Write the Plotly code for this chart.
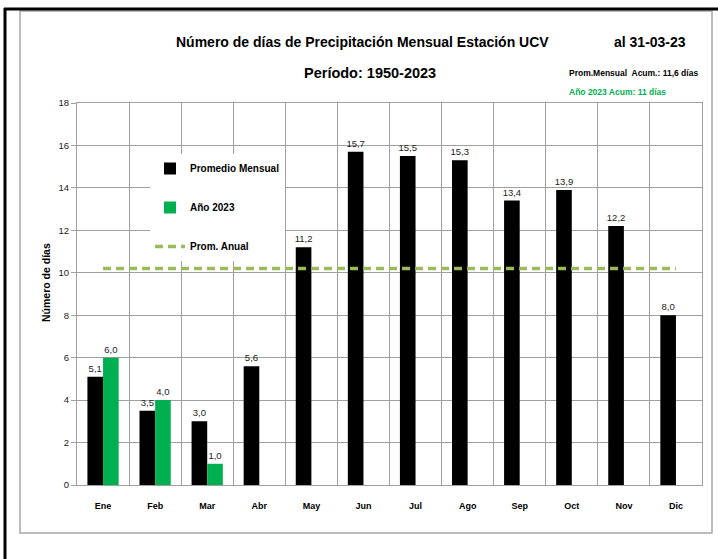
import plotly.graph_objects as go

months = ["Ene", "Feb", "Mar", "Abr", "May", "Jun", "Jul", "Ago", "Sep", "Oct", "Nov", "Dic"]
prom_mensual = [5.1, 3.5, 3.0, 5.6, 11.2, 15.7, 15.5, 15.3, 13.4, 13.9, 12.2, 8.0]
anio_2023_months = ["Ene", "Feb", "Mar"]
anio_2023 = [6.0, 4.0, 1.0]
prom_anual = [10.2, 10.2, 10.2, 10.2, 10.2, 10.2, 10.2, 10.2, 10.2, 10.2, 10.2, 10.2]
y_ticks = [0, 2, 4, 6, 8, 10, 12, 14, 16, 18]

FONT = "Liberation Sans, Arial, sans-serif"

def fmt(v):
    return f"{v:.1f}".replace(".", ",")

fig = go.Figure()
fig.add_trace(go.Bar(
    x=months, y=prom_mensual, name="<b>Promedio Mensual</b>",
    marker=dict(color="#000000", line=dict(width=0)),
    text=[fmt(v) for v in prom_mensual], textposition="outside",
    textfont=dict(family=FONT, size=9.5, color="#222222"),
    constraintext="none", cliponaxis=False, legendgroup="a",
))
fig.add_trace(go.Bar(
    x=anio_2023_months, y=anio_2023, name="<b>Año 2023</b>",
    marker=dict(color="#00B050", line=dict(width=0)),
    text=[fmt(v) for v in anio_2023], textposition="outside",
    textfont=dict(family=FONT, size=9.5, color="#222222"),
    constraintext="none", cliponaxis=False, legendgroup="b",
))
fig.add_trace(go.Scatter(
    x=months, y=prom_anual, name="<b>Prom. Anual</b>", mode="lines",
    line=dict(color="#9BBB59", width=3.5, dash="8px,5px"), legendgroup="c",
))

# plot area in pixels: x 77..702, y 103..485
L, R, T, B = 77, 702, 103, 485
W, H = R - L, B - T
def px(x):
    return (x - L) / W
def py(y):
    return (B - y) / H

shapes = [
    dict(type="rect", xref="paper", yref="paper", x0=px(20), x1=px(712), y0=py(533), y1=py(11),
         line=dict(color="#A6A6A6", width=1.5), fillcolor="rgba(0,0,0,0)", layer="below"),
    dict(type="line", xref="paper", yref="paper", x0=px(5), x1=px(5), y0=py(559), y1=py(8),
         line=dict(color="#000000", width=3)),
    dict(type="line", xref="paper", yref="paper", x0=px(4), x1=px(718), y0=py(9), y1=py(9),
         line=dict(color="#000000", width=3)),
]

def ann(text, x, y, size, color="#000000", xanchor="center", angle=0):
    return dict(text=text, x=px(x), y=py(y), xref="paper", yref="paper", showarrow=False,
                xanchor=xanchor, yanchor="middle", textangle=angle,
                font=dict(family=FONT, size=size, color=color))

annotations = [
    ann("<b>Número de días de Precipitación Mensual Estación UCV</b>", 362, 42, 14),
    ann("<b>Período: 1950-2023</b>", 370, 73, 14.5),
    ann("<b>al 31-03-23</b>", 650, 42, 14),
    ann("<b>Prom.Mensual  Acum.: 11,6 días</b>", 567, 73, 8.5, xanchor="left"),
    ann("<b>Año 2023 Acum: 11 días</b>", 567, 92, 8.5, color="#00B050", xanchor="left"),
    ann("<b>Número de días</b>", 46, 283, 10.5, angle=-90),
]

fig.update_layout(
    width=718, height=559,
    margin=dict(l=L, r=718 - R, t=T, b=559 - B),
    paper_bgcolor="#FFFFFF", plot_bgcolor="#FFFFFF",
    barmode="group", bargap=0.4, bargroupgap=0,
    showlegend=True,
    legend=dict(x=px(150), y=py(154), xanchor="left", yanchor="top",
                bgcolor="#FFFFFF", borderwidth=0, traceorder="grouped", tracegroupgap=20,
                font=dict(family=FONT, size=10, color="#000000"), itemwidth=30),
    shapes=shapes, annotations=annotations,
    font=dict(family=FONT, color="#000000"),
)
fig.update_xaxes(
    type="category", categoryorder="array", categoryarray=months,
    tickson="boundaries", ticks="", showgrid=True, gridcolor="#A0A0A0", gridwidth=1,
    showline=True, linecolor="#A0A0A0", linewidth=1, mirror=True,
    tickfont=dict(family=FONT, size=9, color="#000000"), ticklabelstandoff=12,
    tickvals=months, ticktext=[f"<b>{m}</b>" for m in months],
)
fig.update_yaxes(
    range=[0, 18], tickvals=y_ticks, ticks="outside", ticklen=5, tickcolor="#A0A0A0",
    showgrid=True, gridcolor="#A0A0A0", gridwidth=1, zeroline=False,
    showline=True, linecolor="#A0A0A0", linewidth=1, mirror=True,
    tickfont=dict(family=FONT, size=9.5, color="#222222"),
)

fig.write_html("out.html", config={"displayModeBar": False},
               post_script="document.body.style.margin='0';document.body.style.overflow='hidden';")
